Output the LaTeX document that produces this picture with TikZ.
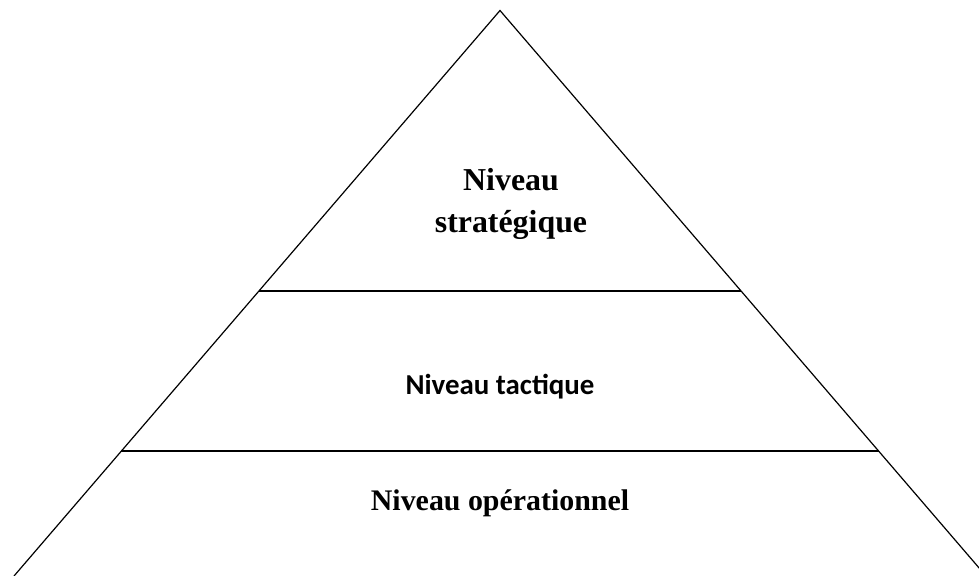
\documentclass[tikz,border=0pt]{standalone}
\usepackage{fontspec}
\usetikzlibrary{calc}
\setmainfont{Liberation Serif}
\newfontfamily\calibrilike{Carlito}
\begin{document}
\begin{tikzpicture}[x=1bp,y=-1bp,
  edge/.style={line width=1.2bp, black},
  serifbold/.style={font=\fontsize{32}{43}\selectfont\bfseries, align=center, anchor=base, inner sep=0pt},
  sansbold/.style={font=\calibrilike\fontsize{29}{34}\selectfont\bfseries, anchor=base, inner sep=0pt}]
  \useasboundingbox (0,0) rectangle (979,576);
  % pyramid outline
  \coordinate (apex) at (500,10.5);
  \coordinate (bl) at (14,576);
  \coordinate (br) at (986,576);
  \draw[edge] (bl) -- (apex) -- (br);
  % level separators
  \coordinate (s1l) at ($(apex)!{(291-10.5)/(576-10.5)}!(bl)$);
  \coordinate (s1r) at ($(apex)!{(291-10.5)/(576-10.5)}!(br)$);
  \coordinate (s2l) at ($(apex)!{(451-10.5)/(576-10.5)}!(bl)$);
  \coordinate (s2r) at ($(apex)!{(451-10.5)/(576-10.5)}!(br)$);
  \draw[edge] (s1l) -- (s1r);
  \draw[edge] (s2l) -- (s2r);
  % labels (base = baseline of the last line)
  \node[serifbold] (strat) at (511,233) {Niveau\\strat\'egique};
  \node[sansbold] (tact) at (500,394) {Niveau tactique};
  \node[serifbold, font=\fontsize{30}{36}\selectfont\bfseries] (oper) at (500,510) {Niveau op\'erationnel};
\end{tikzpicture}
\end{document}
